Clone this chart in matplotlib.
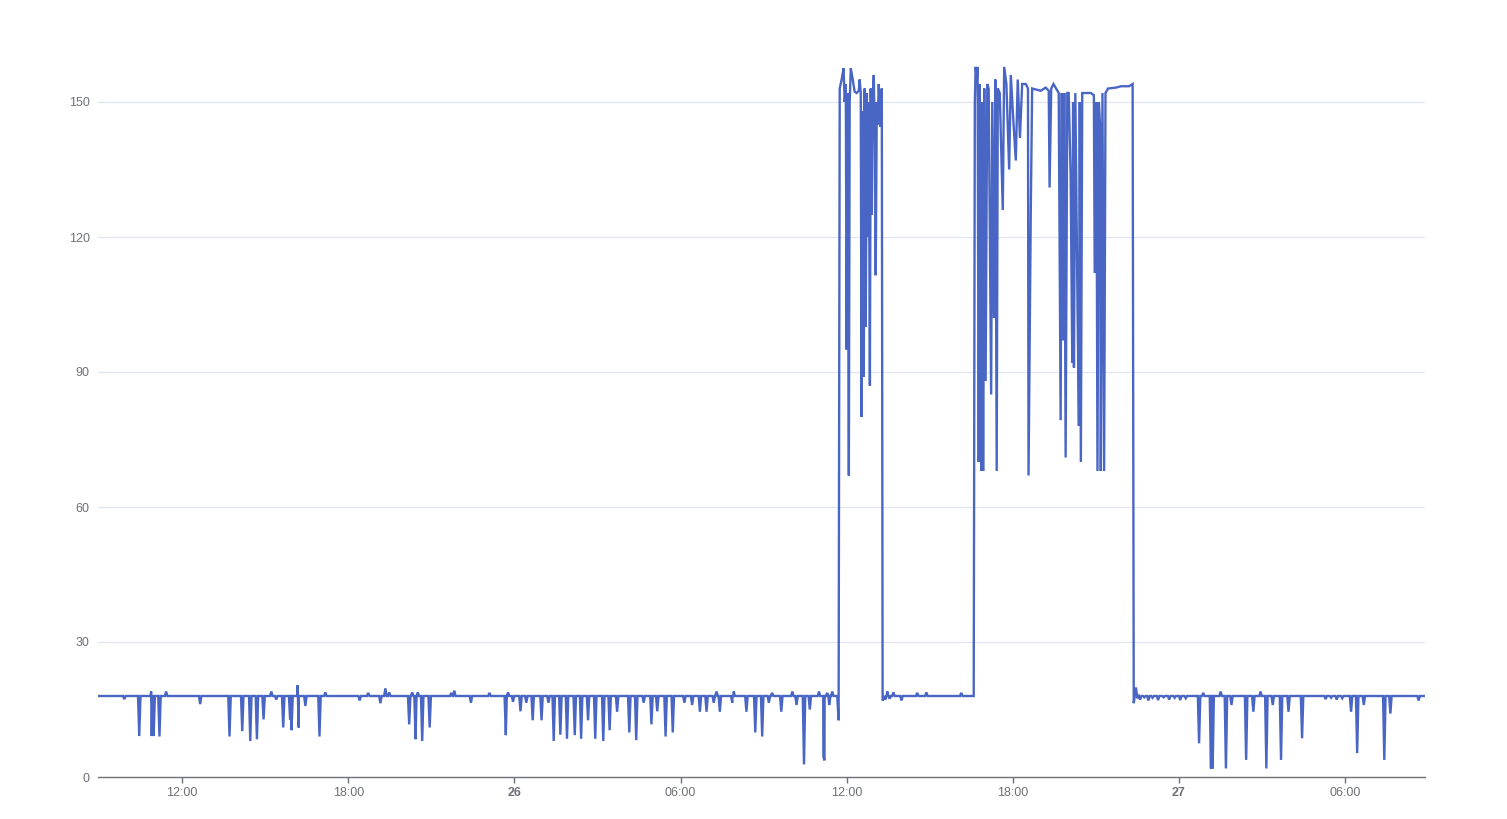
import matplotlib.pyplot as plt

# hours counted from the 25th 00:00
start_hour, end_hour = 8.96, 56.89
base_level = 18

# short excursions away from the flat ~18 level
blip_hours = [9.91, 10.45, 10.88, 10.90, 10.97, 11.18, 11.42, 12.65, 13.71, 14.17,
              14.46, 14.70, 14.94, 15.22, 15.40, 15.65, 15.90, 15.95, 16.17, 16.21,
              16.45, 16.96, 17.17, 18.41, 18.72, 19.16, 19.34, 19.48, 20.20, 20.31,
              20.43, 20.51, 20.67, 20.94, 21.72, 21.83, 22.43, 23.10, 23.69, 23.77,
              23.95, 24.22, 24.43, 24.66, 24.98, 25.23, 25.42, 25.66, 25.90, 26.18,
              26.41, 26.66, 26.92, 27.21, 27.44, 27.71, 28.15, 28.40, 28.67, 28.95,
              29.16, 29.46, 29.72, 30.14, 30.42, 30.70, 30.94, 31.20, 31.30, 31.42,
              31.87, 31.92, 32.38, 32.70, 32.95, 33.19, 33.31, 33.64, 34.04, 34.19,
              34.46, 34.67, 35.00, 35.16, 35.20, 35.30, 35.37, 35.48,
              37.40, 37.47, 37.55, 37.69, 37.98, 38.55, 38.88, 40.14,
              46.60, 46.75, 46.90, 47.05, 47.25, 47.45, 47.65, 47.85, 48.05, 48.25,
              48.73, 48.88, 49.16, 49.22, 49.51, 49.70, 49.90, 50.43, 50.69, 50.95,
              51.16, 51.39, 51.69, 51.96, 52.45, 53.30, 53.50, 53.70, 53.90,
              54.22, 54.44, 54.68, 55.42, 55.64, 56.66]
blip_values = [17.3, 9.1, 19.0, 9.1, 9.1, 9.0, 19.0, 16.2, 9.0, 10.2,
               8.0, 8.4, 12.8, 19.0, 17.2, 11.0, 12.7, 10.4, 20.4, 11.0,
               15.8, 9.0, 18.8, 17.0, 18.7, 16.4, 19.7, 18.8, 11.7, 18.8,
               8.4, 18.8, 8.0, 11.0, 18.7, 19.2, 16.5, 18.7, 9.3, 18.8,
               16.7, 14.6, 16.5, 12.6, 12.6, 16.5, 8.0, 9.4, 8.5, 9.3,
               8.5, 12.6, 8.5, 8.0, 10.4, 14.5, 9.9, 8.2, 16.5, 11.7,
               14.6, 9.0, 9.9, 16.5, 16.0, 14.5, 14.5, 16.5, 19.0, 14.5,
               16.5, 19.0, 14.5, 9.9, 9.0, 16.5, 18.7, 14.5, 19.0, 16.0,
               2.8, 15.0, 19.0, 4.5, 3.7, 18.7, 16.0, 19.0,
               17.2, 19.0, 17.4, 18.8, 17.0, 18.7, 18.8, 18.7,
               17.2, 17.7, 17.0, 17.6, 17.1, 17.7, 17.2, 17.6, 17.1, 17.5,
               7.5, 18.7, 1.9, 1.9, 19.0, 1.9, 16.0, 3.8, 14.5, 19.0,
               1.9, 16.0, 3.8, 14.5, 8.6, 17.3, 17.6, 17.2, 17.5,
               14.5, 5.3, 16.0, 3.8, 14.1, 17.0]

# first high period, point by point
burst1_hours = [35.66, 35.71, 35.75, 35.82, 35.89, 35.93, 35.97, 36.00, 36.04, 36.08,
                36.11, 36.15, 36.22, 36.29, 36.36, 36.44, 36.47, 36.51, 36.54, 36.58,
                36.62, 36.65, 36.69, 36.73, 36.76, 36.80, 36.84, 36.87, 36.91, 36.94,
                36.98, 37.02, 37.05, 37.09, 37.12, 37.16, 37.20, 37.23, 37.27, 37.30,
                37.34]
burst1_values = [18, 12.6, 153, 155, 157.5, 150, 154, 95, 152, 67,
                 150, 157.5, 155, 152.3, 152, 152.5, 155, 152, 80, 148,
                 89, 153, 100, 152, 120, 150, 87, 153, 125, 150,
                 156, 140, 111.5, 150, 145, 154, 148, 144.5, 153, 17,
                 17.5]

# second high period
burst2_hours = [40.59, 40.63, 40.66, 40.70, 40.73, 40.77, 40.81, 40.86, 40.90, 40.93,
                40.97, 41.02, 41.08, 41.13, 41.22, 41.26, 41.32, 41.37, 41.42, 41.46,
                41.53, 41.64, 41.69, 41.77, 41.87, 41.93, 42.02, 42.11, 42.18, 42.26,
                42.34, 42.47, 42.55, 42.57, 42.65, 42.70, 43.01, 43.19, 43.30, 43.33,
                43.39, 43.47, 43.66, 43.73, 43.77, 43.82, 43.86, 43.91, 43.97, 44.02,
                44.09, 44.15, 44.18, 44.21, 44.26, 44.34, 44.39, 44.42, 44.46, 44.51,
                44.82, 44.93, 44.96, 45.02, 45.06, 45.11, 45.16, 45.18, 45.24, 45.30,
                45.35, 45.44, 45.73, 45.91, 46.20, 46.33, 46.37, 46.45, 46.50]
burst2_values = [18, 150, 157.8, 155, 157.8, 70, 154, 68, 150, 68,
                 153, 88, 154, 153, 85, 150, 102, 155, 68, 153,
                 152, 126, 157.8, 154, 135, 156, 146, 137, 155, 142,
                 154, 154, 153, 67, 125, 153, 152.5, 153.2, 152.5, 131,
                 153, 154, 152, 79.3, 152, 97, 152, 71, 152, 152,
                 134, 92, 150, 91, 152, 104, 78, 150, 70, 152,
                 152, 151.5, 112, 150, 68, 150, 144, 68, 152, 68,
                 152, 153, 153.2, 153.5, 153.5, 154, 16.4, 19.9, 17.5]

y_ticks = [0, 30, 60, 90, 120, 150]
x_ticks = [12, 18, 24, 30, 36, 42, 48, 54]
x_labels = ['12:00', '18:00', '26', '06:00', '12:00', '18:00', '27', '06:00']

# build the trace: flat level with narrow blips, plus the two bursts
points = [(start_hour, base_level), (end_hour, base_level)]
half = 0.045
for h, v in zip(blip_hours, blip_values):
    points += [(h - half, base_level), (h, v), (h + half, base_level)]
points += list(zip(burst1_hours, burst1_values))
points += list(zip(burst2_hours, burst2_values))
points.sort(key=lambda p: p[0])
xs = [p[0] for p in points]
ys = [p[1] for p in points]

plt.rcParams['font.family'] = ['Liberation Sans', 'DejaVu Sans']
fig = plt.figure(figsize=(15.07, 8.19), dpi=100)
ax = fig.add_axes([98 / 1507, 42 / 819, 1327 / 1507, 742.5 / 819])

ax.plot(xs, ys, color='#4a66c4', linewidth=1.7, solid_joinstyle='miter')

ax.set_xlim(start_hour, end_hour)
ax.set_ylim(0, 165)
ax.set_yticks(y_ticks)
ax.set_yticklabels([str(t) for t in y_ticks])
ax.set_xticks(x_ticks)
ax.set_xticklabels(x_labels)
for lbl, txt in zip(ax.get_xticklabels(), x_labels):
    if ':' not in txt:
        lbl.set_fontweight('bold')

for t in y_ticks[1:]:
    ax.axhline(t, color='#e0e6f1', linewidth=0.9, zorder=0)

for side in ['top', 'right', 'left']:
    ax.spines[side].set_visible(False)
ax.spines['bottom'].set_color('#6e7079')
ax.spines['bottom'].set_linewidth(1.0)

ax.tick_params(axis='y', length=0, pad=6, labelsize=9, labelcolor='#6e7079')
ax.tick_params(axis='x', length=4, width=1, color='#6e7079', pad=3,
               labelsize=9, labelcolor='#6e7079')

fig.savefig('out.png', dpi=100)
